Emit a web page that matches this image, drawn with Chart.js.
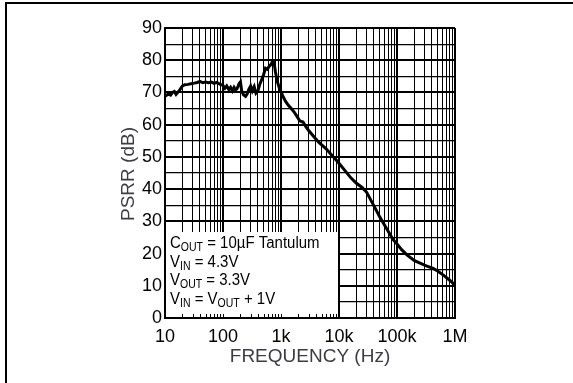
<!DOCTYPE html>
<html>
<head>
<meta charset="utf-8">
<script src="https://cdn.jsdelivr.net/npm/chart.js@4.4.1/dist/chart.umd.min.js"></script>
<style>
  html, body { margin: 0; padding: 0; background: #fff; }
  #wrap { width: 573px; height: 383px; position: relative; }
</style>
</head>
<body>
<div id="wrap"><canvas id="psrr-chart" width="573" height="383"></canvas></div>
<script>
// PSRR vs frequency
const freqHz = [10, 11.5, 12.5, 13.5, 14.5, 15.5, 16.5, 18, 20, 22, 25, 28, 32, 36, 40, 45, 50, 56, 63, 70, 78, 88,
  100, 108, 116, 126, 135, 145, 155, 165, 175, 190, 200, 210, 225, 245, 260, 280, 300, 320, 345, 370, 400, 430, 460,
  500, 540, 580, 620, 680, 720, 760, 800, 860, 950, 1000, 1100, 1200, 1340, 1500, 1700, 1900, 2100, 2400, 2700,
  3000, 3600, 4500, 6000, 8000, 10000, 13000, 16000, 20000, 25000, 30000, 40000, 50000, 70000, 86000, 100000,
  120000, 150000, 200000, 250000, 320000, 420000, 500000, 630000, 800000, 1000000];
const psrrDb = [68.8, 69.5, 69.2, 70.0, 70.3, 69.4, 70.0, 70.8, 72.0, 72.4, 72.5, 72.7, 72.9, 73.1, 73.4, 73.0, 73.2, 73.0, 73.2, 72.8, 73.1, 72.6,
  72.2, 71.3, 72.0, 70.9, 71.6, 70.5, 71.6, 70.8, 71.2, 72.8, 73.3, 70.5, 69.3, 68.8, 69.5, 71.0, 72.0, 70.5, 71.8, 69.8, 70.5, 72.5, 73.8,
  75.5, 77.5, 77.2, 78.0, 78.8, 79.8, 79.2, 76.5, 73.5, 71.0, 70.2, 68.5, 67.2, 66.0, 65.0, 63.8, 62.5, 61.2, 60.8, 59.3,
  58.2, 56.5, 54.5, 52.5, 50.0, 48.0, 45.5, 43.5, 41.8, 40.5, 39.0, 34.8, 31.5, 27.0, 24.3, 23.0,
  21.2, 19.5, 17.8, 17.0, 16.2, 15.4, 14.6, 13.3, 11.8, 10.2];

const decadeLabels = {10: '10', 100: '100', 1000: '1k', 10000: '10k', 100000: '100k', 1000000: '1M'};
const legendLines = [
  [['C', ''], ['OUT', 'sub'], [' = 10\u00B5F Tantulum', '']],
  [['V', ''], ['IN', 'sub'], [' = 4.3V', '']],
  [['V', ''], ['OUT', 'sub'], [' = 3.3V', '']],
  [['V', ''], ['IN', 'sub'], [' = V', ''], ['OUT', 'sub'], [' + 1V', '']]
];
const xTitle = 'FREQUENCY (Hz)';
const yTitle = 'PSRR (dB)';

// grid positions 1..9 x 10^n
const xGrid = [];
for (let d = 10; d < 1000000; d *= 10) {
  for (let m = 1; m < 10; m++) xGrid.push(m * d);
}
xGrid.push(1000000);

const FONT = '"Liberation Sans", Arial, sans-serif';

const extras = {
  id: 'extras',
  beforeDraw(chart) {
    const c = chart.ctx;
    c.save();
    c.fillStyle = '#000';
    c.fillRect(6, 2, 567, 2);   // page frame, top
    c.fillRect(5, 2, 2, 381);   // page frame, left
    c.restore();
  },
  afterDraw(chart) {
    const c = chart.ctx;
    const a = chart.chartArea;
    const xs = chart.scales.x;
    c.save();
    // conditions box
    const boxRight = xs.getPixelForValue(10000) - 1;
    const boxTop = 232;
    c.fillStyle = '#fff';
    c.fillRect(a.left + 1, boxTop, boxRight - a.left - 1, a.bottom - boxTop - 1);
    // little tick stubs along the bottom inside the box
    c.strokeStyle = '#000';
    c.lineWidth = 1;
    xGrid.forEach(v => {
      const px = Math.round(xs.getPixelForValue(v)) + 0.5;
      if (px > a.left + 2 && px < boxRight) {
        c.beginPath();
        c.moveTo(px, a.bottom);
        c.lineTo(px, a.bottom - 4);
        c.stroke();
      }
    });
    // conditions text
    c.fillStyle = '#000';
    c.textBaseline = 'alphabetic';
    c.textAlign = 'left';
    const baselines = [248, 266.5, 285, 303.5];
    legendLines.forEach((parts, i) => {
      let x = 170;
      parts.forEach(([txt, kind]) => {
        c.save();
        if (kind === 'sub') {
          c.font = '10.5px ' + FONT;
          c.translate(x, baselines[i] + 3);
        } else {
          c.font = '15px ' + FONT;
          c.translate(x, baselines[i]);
        }
        c.scale(1, 1.15);
        c.fillText(txt, 0, 0);
        x += c.measureText(txt).width;
        c.restore();
      });
    });
    // axis titles
    c.fillStyle = '#3f3b44';
    c.font = '19px ' + FONT;
    c.textAlign = 'center';
    c.textBaseline = 'middle';
    c.fillText(xTitle, (a.left + a.right) / 2, 357);
    c.translate(129, (a.top + a.bottom) / 2 + 1);
    c.rotate(-Math.PI / 2);
    c.fillText(yTitle, 0, 0);
    c.restore();
  }
};

const ctx = document.getElementById('psrr-chart').getContext('2d');
new Chart(ctx, {
  type: 'line',
  data: {
    datasets: [{
      data: freqHz.map((f, i) => ({x: f, y: psrrDb[i]})),
      borderColor: '#000',
      borderWidth: 3,
      pointRadius: 0,
      tension: 0,
      fill: false
    }]
  },
  options: {
    responsive: false,
    animation: false,
    layout: { padding: { left: 0, top: 28, right: 118, bottom: 0 } },
    plugins: { legend: { display: false }, tooltip: { enabled: false } },
    scales: {
      x: {
        type: 'logarithmic',
        min: 10,
        max: 1000000,
        afterBuildTicks: s => { s.ticks = xGrid.map(v => ({value: v})); },
        afterFit: s => { s.height = 65; },
        border: { color: '#000', width: 2 },
        grid: {
          color: '#000',
          drawTicks: false,
          lineWidth: g => (g.tick && decadeLabels[g.tick.value] ? 2 : 1)
        },
        ticks: {
          autoSkip: false,
          maxRotation: 0,
          padding: 8,
          color: '#000',
          font: { family: FONT, size: 18 },
          callback: v => decadeLabels[v] || ''
        }
      },
      y: {
        min: 0,
        max: 90,
        afterFit: s => { s.width = 165; },
        border: { color: '#000', width: 2 },
        grid: {
          color: '#000',
          drawTicks: false,
          lineWidth: g => (g.tick && g.tick.value % 10 === 0 ? 2 : 1.2)
        },
        ticks: {
          stepSize: 5,
          autoSkip: false,
          padding: 3,
          color: '#000',
          font: { family: FONT, size: 18 },
          callback: v => (v % 10 === 0 ? String(v) : '')
        }
      }
    }
  },
  plugins: [extras]
});
</script>
</body>
</html>
